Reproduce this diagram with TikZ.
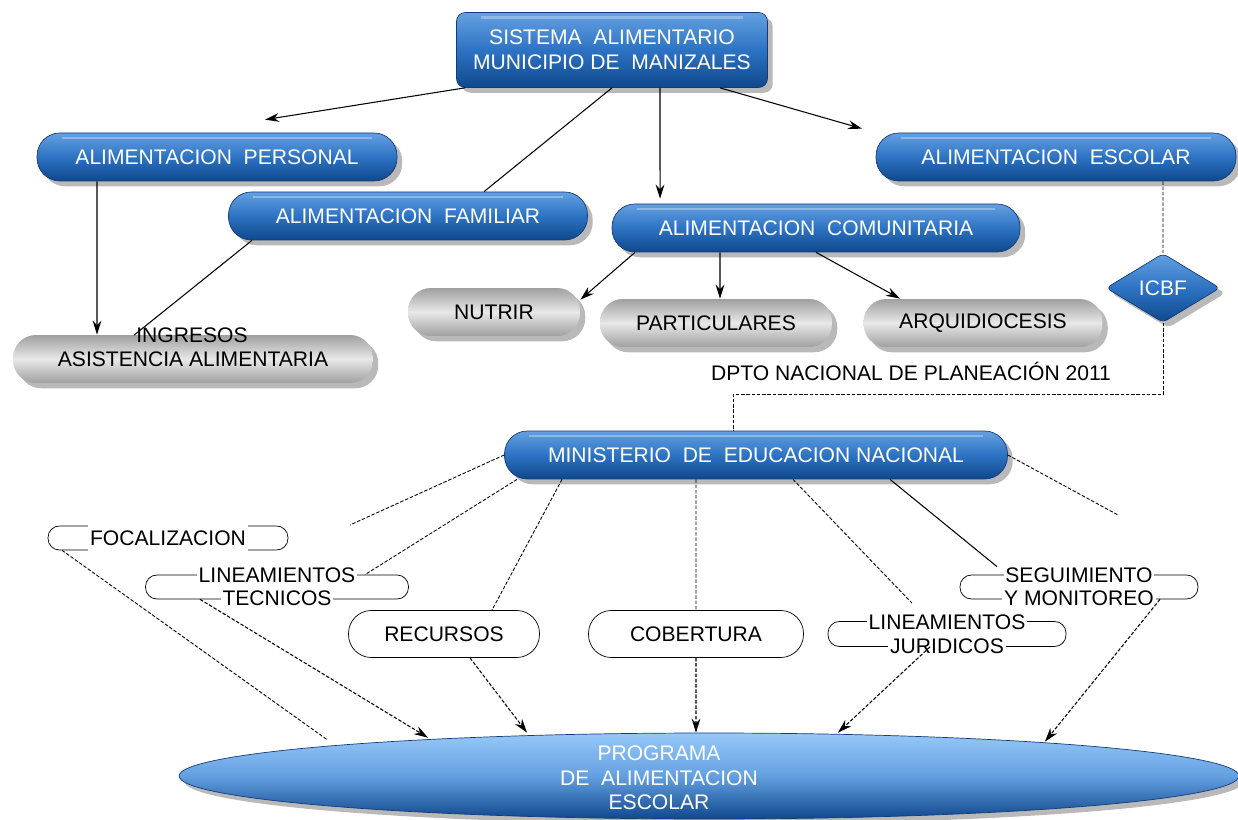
\documentclass[tikz,border=0pt]{standalone}
\usepackage{fontspec}
\setmainfont{Liberation Sans}
\usetikzlibrary{arrows.meta}
\usetikzlibrary{shapes.geometric,shadows}

\definecolor{boxtop}{RGB}{100,160,225}
\definecolor{boxmid}{RGB}{45,115,195}
\definecolor{boxbot}{RGB}{15,72,140}
\definecolor{boxline}{RGB}{20,60,120}
\definecolor{greyend}{RGB}{160,160,160}
\definecolor{greymid}{RGB}{232,232,232}
\definecolor{ovaltop}{RGB}{150,200,248}

\begin{document}
\begin{tikzpicture}[x=0.02cm, y=-0.02cm, font=\fontsize{12}{14}\selectfont,
	shade/.style={drop shadow={fill=black!55, opacity=.5, shadow xshift=3pt, shadow yshift=-3pt}},
	bluebox/.style={shade, draw=boxline, thin, rounded corners=13pt, minimum height=0.96cm,
		inner sep=0pt, text=white, align=center,
		top color=boxtop, bottom color=boxbot, middle color=boxmid,
		path picture={\fill[white, opacity=.3, sharp corners]
			([xshift=14pt, yshift=-2pt]path picture bounding box.north west) rectangle
			([xshift=-14pt, yshift=-3.5pt]path picture bounding box.north east);}},
	greybox/.style={shade, rounded corners=13pt, minimum height=0.96cm, inner sep=0pt,
		top color=greyend, bottom color=greyend, middle color=greymid},
	pill/.style={draw, thin, rounded corners=6.5pt, minimum height=0.48cm, inner sep=0pt},
	linetext/.style={fill=white, inner xsep=1pt, inner ysep=3pt},
	arr/.style={line width=0.6pt, -{Stealth[length=8pt, width=5pt]}},
	plain/.style={line width=0.6pt},
	dots/.style={line width=0.5pt, dash pattern=on 2pt off 1pt}
	]
	\useasboundingbox (0, 0) rectangle (1238, 820);

	% top of the map
	\node[bluebox, minimum width=6.22cm, minimum height=1.5cm, rounded corners=5pt] at (612, 50) (sistema)
		{SISTEMA~ ALIMENTARIO\\MUNICIPIO DE~ MANIZALES};

	\node[bluebox, minimum width=7.2cm] at (217, 157) (personal) {ALIMENTACION~ PERSONAL};
	\node[bluebox, minimum width=7.18cm] at (408, 216) (familiar) {ALIMENTACION~ FAMILIAR};
	\node[bluebox, minimum width=8.16cm] at (816, 228) (comunitaria) {ALIMENTACION~ COMUNITARIA};
	\node[bluebox, minimum width=7.2cm] at (1056, 157) (escolar) {ALIMENTACION~ ESCOLAR};
	\node[bluebox, diamond, aspect=1.65, minimum width=2.28cm, minimum height=1.38cm,
		rounded corners=3pt, path picture={}] at (1163, 288) (icbf) {ICBF};

	\node[greybox, minimum width=3.44cm] at (494, 312) (nutrir) {NUTRIR};
	\node[greybox, minimum width=4.64cm] at (716, 323) (particulares) {PARTICULARES};
	\node[greybox, minimum width=4.78cm] at (983, 323) (arquidiocesis) {ARQUIDIOCESIS};
	\node[greybox, minimum width=7.2cm] at (193, 359) (asistencia) {ASISTENCIA ALIMENTARIA};
	\node[inner sep=1pt] at (192, 335) (ingresos) {INGRESOS};

	\node at (911, 371) (dpto) {DPTO NACIONAL DE PLANEACIÓN 2011};

	% ministerio and its branches
	\node[bluebox, minimum width=10.06cm] at (756, 455) (ministerio) {MINISTERIO~ DE~ EDUCACION NACIONAL};

	\node[pill, minimum width=4.8cm, label={[linetext]center:FOCALIZACION}] at (168, 538) (focalizacion) {};
	\node[pill, minimum width=5.26cm,
		label={[linetext, yshift=0.24cm]center:LINEAMIENTOS},
		label={[linetext, yshift=-0.22cm]center:TECNICOS}] at (277, 587) (tecnicos) {};
	\node[pill, minimum width=3.82cm, minimum height=0.94cm, rounded corners=13pt] at (444, 634) (recursos) {RECURSOS};
	\node[pill, minimum width=4.3cm, minimum height=0.94cm, rounded corners=13pt] at (696, 634) (cobertura) {COBERTURA};
	\node[pill, minimum width=4.76cm, minimum height=0.5cm,
		label={[linetext, yshift=0.24cm]center:LINEAMIENTOS},
		label={[linetext, yshift=-0.24cm]center:JURIDICOS}] at (947, 634) (juridicos) {};
	\node[pill, minimum width=4.76cm,
		label={[linetext, yshift=0.24cm]center:SEGUIMIENTO},
		label={[linetext, yshift=-0.22cm]center:Y MONITOREO}] at (1079, 587) (seguimiento) {};

	\node[shade, ellipse, draw=boxline, thin, minimum width=21.2cm, minimum height=1.72cm,
		top color=ovaltop, bottom color=boxbot, middle color=boxtop,
		label={[text=white, align=center, xshift=-1cm, yshift=-1pt]center:PROGRAMA\\DE~ ALIMENTACION\\ESCOLAR}]
		at (709, 776) (programa) {};

	\coordinate (freeleft) at (350, 525);
	\coordinate (freeright) at (1118, 515);

	% connectors
	\draw[arr] ([xshift=-2.94cm]sistema.south) -- ([xshift=0.96cm, yshift=0.26cm]personal.north);
	\draw[plain] (sistema.south) -- ([xshift=1.52cm]familiar.north);
	\draw[arr] ([xshift=0.96cm]sistema.south) -- ([xshift=-3.12cm, yshift=0.1cm]comunitaria.north);
	\draw[arr] ([xshift=2.16cm]sistema.south) -- ([xshift=-3.88cm, yshift=0.08cm]escolar.north);

	\draw[arr] ([xshift=-2.4cm]personal.south) -- ([xshift=-1.92cm]asistencia.north);
	\draw[plain] ([xshift=-3.12cm]familiar.south) -- (ingresos.west);

	\draw[arr] ([xshift=-3.62cm]comunitaria.south) -- ([yshift=-0.24cm]nutrir.north east);
	\draw[arr] ([xshift=-1.92cm]comunitaria.south) -- ([xshift=0.08cm]particulares.north);
	\draw[arr] (comunitaria.south) -- ([xshift=-1.66cm]arquidiocesis.north);

	\draw[dots] ([xshift=2.14cm]escolar.south) -- (icbf.north);
	\draw[dots] (icbf.south) |- ([xshift=-0.46cm, yshift=0.72cm]ministerio.north) -- ([xshift=-0.46cm]ministerio.north);

	\draw[dots] (ministerio.west) -- (freeleft);
	\draw[dots] ([xshift=-4.78cm]ministerio.south) -- ([xshift=1.76cm]tecnicos.north);
	\draw[dots] ([xshift=-3.88cm]ministerio.south) -- ([xshift=0.96cm]recursos.north);
	\draw[dots] ([xshift=-1.2cm]ministerio.south) -- (cobertura.north);
	\draw[dots] ([xshift=0.74cm]ministerio.south) -- ([xshift=-0.7cm, yshift=0.36cm]juridicos.north);
	\draw[plain] ([xshift=2.68cm]ministerio.south) -- ([xshift=-1.64cm, yshift=0.16cm]seguimiento.north);
	\draw[dots] (ministerio.east) -- (freeright);

	\draw[dots] ([xshift=-2.12cm]focalizacion.south) -- ([xshift=-7.64cm, yshift=-0.14cm]programa.north);
	\draw[dots, arr] ([xshift=-1.54cm]tecnicos.south) -- ([xshift=-5.62cm, yshift=-0.1cm]programa.north);
	\draw[dots, arr] ([xshift=0.52cm]recursos.south) -- ([xshift=-3.64cm]programa.north);
	\draw[dots, arr] (cobertura.south) -- ([xshift=-0.26cm]programa.north);
	\draw[dots, arr] ([xshift=-0.34cm]juridicos.south) -- ([xshift=2.58cm]programa.north);
	\draw[dots, arr] ([xshift=1.62cm]seguimiento.south) -- ([xshift=6.72cm, yshift=-0.18cm]programa.north);
\end{tikzpicture}
\end{document}
